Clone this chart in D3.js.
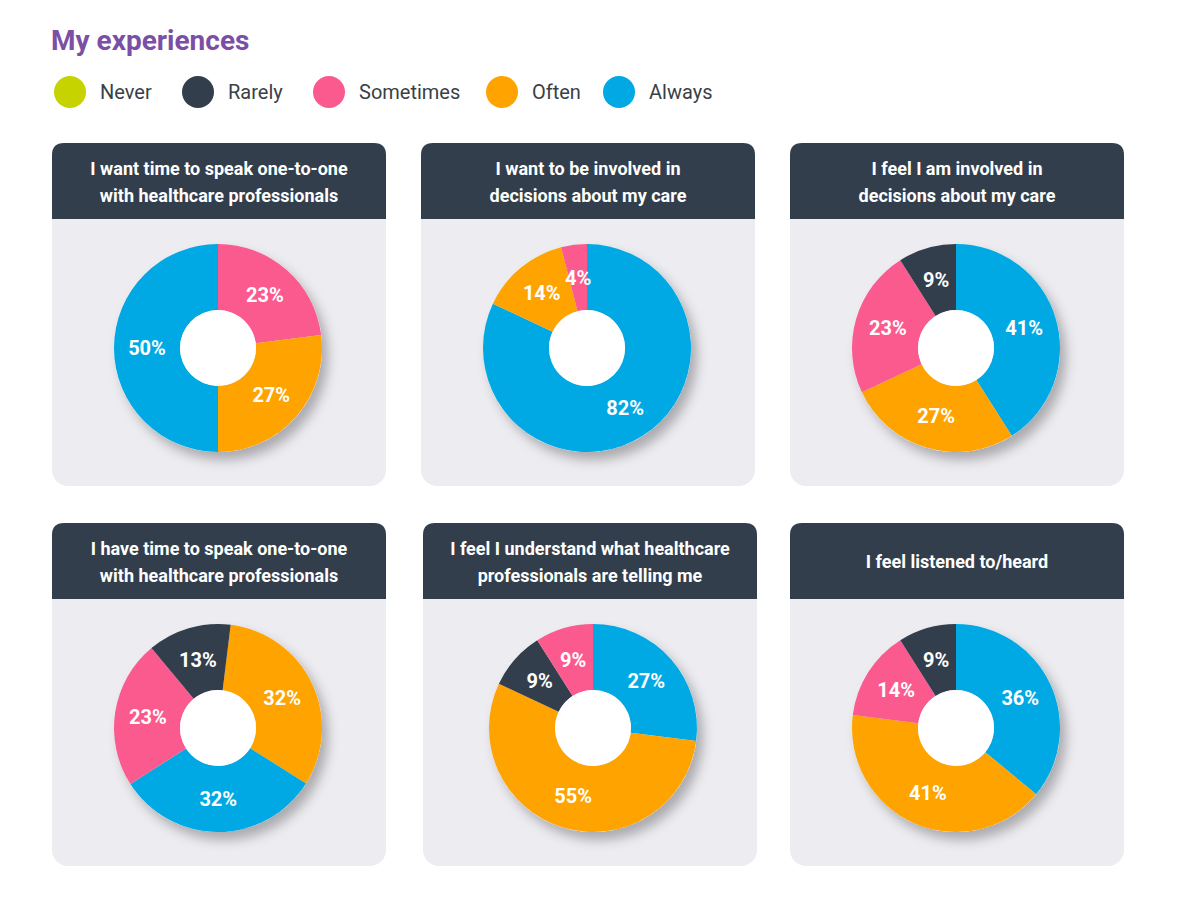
<!DOCTYPE html>
<html>
<head>
<meta charset="utf-8">
<script src="https://cdn.jsdelivr.net/npm/d3@7"></script>
<style>
  html, body { margin: 0; padding: 0; background: #fff; }
  svg { display: block; font-family: Roboto, "Noto Sans", sans-serif; }
</style>
</head>
<body>
<svg id="chart" width="1200" height="898"></svg>
<script>
const categories = ["Never", "Rarely", "Sometimes", "Often", "Always"];
const categoryColors = ["#c6d300", "#323e4b", "#fb5a8f", "#ffa300", "#00a9e3"];

const titles = [
  ["I want time to speak one-to-one", "with healthcare professionals"],
  ["I want to be involved in", "decisions about my care"],
  ["I feel I am involved in", "decisions about my care"],
  ["I have time to speak one-to-one", "with healthcare professionals"],
  ["I feel I understand what healthcare", "professionals are telling me"],
  ["I feel listened to/heard"],
];

// slices clockwise from the start angle: category index and percent
const sliceCategories = [
  [2, 3, 4],
  [4, 3, 2],
  [4, 3, 2, 1],
  [3, 4, 2, 1],
  [4, 3, 1, 2],
  [4, 3, 2, 1],
];
const sliceValues = [
  [23, 27, 50],
  [82, 14, 4],
  [41, 27, 23, 9],
  [32, 32, 23, 13],
  [27, 55, 9, 9],
  [36, 41, 14, 9],
];
// rotation of first slice, degrees clockwise from 12 o'clock
const startDegrees = [0, 0, 0, 7, 0, 0];

const panelX = [52, 421, 790];
const panelY = [143, 523];
const panelW = 334;
const panelH = 343;
const headerH = 76;
const outerR = 104;
const innerR = 38;

const svg = d3.select("#chart");
const color = d3.scaleOrdinal().domain(d3.range(categories.length)).range(categoryColors);

const defs = svg.append("defs");
const shadow = defs.append("filter")
  .attr("id", "pie-shadow")
  .attr("x", "-20%").attr("y", "-20%")
  .attr("width", "150%").attr("height", "150%");
shadow.append("feDropShadow")
  .attr("dx", 6).attr("dy", 8)
  .attr("stdDeviation", 6)
  .attr("flood-color", "#000")
  .attr("flood-opacity", 0.28);

// title
svg.append("text")
  .attr("x", 51)
  .attr("y", 50)
  .attr("fill", "#7b4fa5")
  .attr("font-size", 28)
  .attr("font-weight", 700)
  .text("My experiences");

// legend
const legendX = [70, 198, 329, 502, 619];
const legend = svg.append("g").attr("class", "legend");
categories.forEach((name, i) => {
  legend.append("circle")
    .attr("cx", legendX[i])
    .attr("cy", 92)
    .attr("r", 16)
    .attr("fill", color(i));
  legend.append("text")
    .attr("x", legendX[i] + 30)
    .attr("y", 99)
    .attr("fill", "#3a3f47")
    .attr("font-size", 20)
    .attr("font-weight", 400)
    .text(name);
});

const arc = d3.arc().innerRadius(innerR).outerRadius(outerR);
const labelArc = d3.arc().innerRadius(71).outerRadius(71);

titles.forEach((lines, i) => {
  const x = panelX[i % 3] + (i === 4 ? 2 : 0);
  const y = panelY[Math.floor(i / 3)];
  const g = svg.append("g").attr("transform", `translate(${x},${y})`);

  g.append("rect")
    .attr("width", panelW)
    .attr("height", panelH)
    .attr("rx", 16)
    .attr("fill", "#ececf1");

  // header with rounded top corners only
  const r = 12;
  g.append("path")
    .attr("d", `M0,${headerH} V${r} Q0,0 ${r},0 H${panelW - r} Q${panelW},0 ${panelW},${r} V${headerH} Z`)
    .attr("fill", "#323e4b");

  const lineH = 27;
  const firstY = headerH / 2 - ((lines.length - 1) * lineH) / 2 + 7;
  lines.forEach((line, j) => {
    g.append("text")
      .attr("x", panelW / 2)
      .attr("y", firstY + j * lineH)
      .attr("text-anchor", "middle")
      .attr("fill", "#fff")
      .attr("font-size", 18)
      .attr("font-weight", 700)
      .text(line);
  });

  const start = (startDegrees[i] * Math.PI) / 180;
  const pie = d3.pie()
    .sort(null)
    .value((d) => d.value)
    .startAngle(start)
    .endAngle(start + 2 * Math.PI);

  const data = sliceCategories[i].map((c, k) => ({ cat: c, value: sliceValues[i][k] }));
  const arcs = pie(data);
  const cx = i === 4 ? 170 : 166;
  const cy = headerH + 129;
  const pg = g.append("g").attr("transform", `translate(${cx},${cy})`);

  pg.append("circle")
    .attr("r", outerR)
    .attr("fill", "#ececf1")
    .attr("filter", "url(#pie-shadow)");

  pg.selectAll("path.slice")
    .data(arcs)
    .join("path")
    .attr("class", "slice")
    .attr("d", arc)
    .attr("fill", (d) => color(d.data.cat));

  pg.append("circle").attr("r", innerR).attr("fill", "#fff");

  pg.selectAll("text.pct")
    .data(arcs)
    .join("text")
    .attr("class", "pct")
    .attr("transform", (d) => `translate(${labelArc.centroid(d)})`)
    .attr("text-anchor", "middle")
    .attr("dy", "0.36em")
    .attr("fill", "#fff")
    .attr("font-size", 20)
    .attr("font-weight", 700)
    .text((d) => `${d.data.value}%`);
});
</script>
</body>
</html>
